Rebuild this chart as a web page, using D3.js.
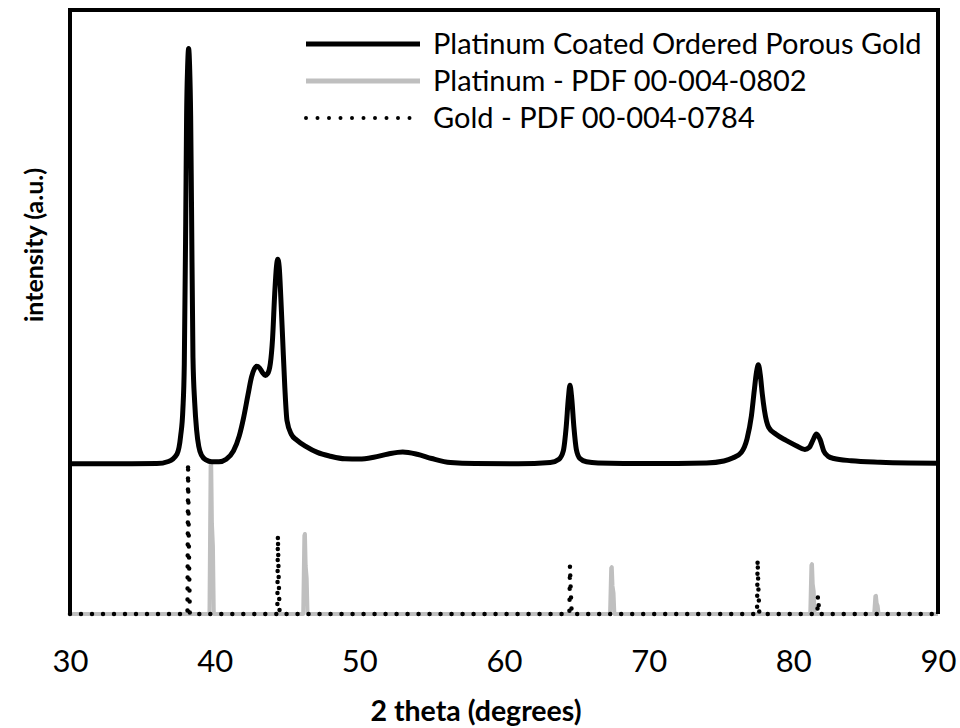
<!DOCTYPE html>
<html>
<head>
<meta charset="utf-8">
<script src="https://cdn.jsdelivr.net/npm/d3@7"></script>
<style>
  html, body { margin: 0; padding: 0; background: #fff; }
  svg { display: block; }
</style>
</head>
<body>
<svg id="chart" width="960" height="728"></svg>
<script>
// ---- data ----
// measured pattern of the sample (2 theta in degrees, intensity in a.u.)
const sampleTheta = [30, 33, 36, 36.8, 37.4, 37.65, 37.8, 37.9, 38.0, 38.06, 38.13, 38.2, 38.27, 38.34, 38.4, 38.5, 38.62, 38.75, 38.9, 39.1, 39.4, 39.8, 40.3, 40.8, 41.3, 41.7, 42.0, 42.3, 42.55, 42.75, 42.9, 43.1, 43.3, 43.5, 43.65, 43.85, 44.0, 44.15, 44.27, 44.36, 44.46, 44.58, 44.7, 44.85, 45.0, 45.3, 45.7, 46.3, 47.1, 48.0, 49.0, 50.0, 51.0, 52.0, 53.0, 54.0, 55.0, 56.3, 58.0, 61.0, 63.2, 63.8, 64.1, 64.3, 64.45, 64.56, 64.68, 64.83, 65.0, 65.25, 65.7, 66.5, 70.0, 74.0, 75.2, 75.8, 76.4, 76.8, 77.1, 77.3, 77.45, 77.58, 77.72, 77.85, 78.0, 78.15, 78.3, 78.8, 79.5, 80.2, 80.8, 81.1, 81.35, 81.6, 81.85, 82.1, 82.4, 82.8, 84.0, 86.0, 88.0, 90.0];
const sampleIntensity = [99.5, 99.5, 99.6, 101, 106, 118, 135, 165, 260, 330, 362, 374.5, 362, 330, 270, 170, 140, 122, 111, 105, 102, 100.8, 100.8, 102.5, 108, 118, 130, 145, 157, 162.5, 164, 163, 160, 158, 159, 166, 182, 212, 230, 235, 230, 208, 182, 150, 128, 119, 115, 111, 107, 104.5, 102.8, 102.6, 103.8, 106, 107.3, 105.8, 103, 100.3, 99.6, 99.5, 100.3, 102.5, 108, 124, 143, 151.5, 143, 124, 109, 103, 100.8, 100, 99.6, 100, 101.3, 103.3, 107, 116, 131, 148, 160, 165, 158, 146, 135, 127.5, 123.5, 119, 115, 111.5, 109, 110.3, 115, 119.2, 115.5, 108, 104.5, 103, 101.5, 100.5, 100, 99.8];

// Platinum - PDF 00-004-0802 (2 theta, relative intensity)
const ptTheta = [39.76, 46.24, 67.45, 81.29, 85.71];
const ptIntensity = [100, 53, 31, 33, 12];

// Gold - PDF 00-004-0784 (2 theta, relative intensity)
const auTheta = [38.18, 44.39, 64.58, 77.55, 81.72];
const auIntensity = [100, 52, 32, 36, 12];

const xTicks = [30, 40, 50, 60, 70, 80, 90];
const legendLabels = ["Platinum Coated Ordered Porous Gold", "Platinum - PDF 00-004-0802", "Gold - PDF 00-004-0784"];
const xTitle = "2 theta (degrees)";
const yTitle = "intensity (a.u.)";

// ---- layout ----
const svg = d3.select("#chart");
const margin = {left: 70, right: 22, top: 10, bottom: 114};
const W = 960, H = 728;
const x = d3.scaleLinear().domain([30, 90]).range([margin.left, W - margin.right]);
const y = d3.scaleLinear().domain([0, 400]).range([H - margin.bottom, margin.top]);
const FONT = "Lato, 'Open Sans', sans-serif";

// stick pattern -> narrow peak profile (Kα1 + small Kα2 shoulder)
function stickProfile(thetas, ints, lead) {
  const pts = [[30, 0]];
  thetas.forEach((t, i) => {
    const h = ints[i];
    pts.push([t - lead, 0], [t - 0.04, h * 0.98], [t, h], [t + 0.05, h * 0.6], [t + 0.12, h * 0.45], [t + 0.18, 0]);
  });
  pts.push([90, 0]);
  return pts;
}

const line = d3.line().x(d => x(d[0])).y(d => y(d[1]));

// Platinum reference (gray)
svg.append("path")
  .datum(stickProfile(ptTheta, ptIntensity, 0.12))
  .attr("fill", "none")
  .attr("stroke", "#bfbfbf")
  .attr("stroke-width", 4)
  .attr("stroke-linejoin", "round")
  .attr("d", line);

// Gold reference (dotted black): up and down strokes
function goldProfile(thetas, ints) {
  const pts = [[30, 0]];
  thetas.forEach((t, i) => {
    const h = ints[i];
    pts.push([t - 0.06, 0], [t - 0.02, h], [t + 0.03, h * 0.5], [t + 0.1, 0]);
  });
  pts.push([90, 0]);
  return pts;
}
svg.append("path")
  .datum(goldProfile(auTheta, auIntensity))
  .attr("fill", "none")
  .attr("stroke", "#000")
  .attr("stroke-width", 4.5)
  .attr("stroke-linecap", "round")
  .attr("stroke-dasharray", "0,11")
  .attr("d", line);

// Sample pattern
const sampleData = sampleTheta.map((t, i) => [t, sampleIntensity[i]]);
svg.append("path")
  .datum(sampleData)
  .attr("fill", "none")
  .attr("stroke", "#000")
  .attr("stroke-width", 5)
  .attr("stroke-linejoin", "round")
  .attr("d", d3.line().x(d => x(d[0])).y(d => y(d[1])).curve(d3.curveMonotoneX));

// frame: left, top, right
const x0 = x(30), x1 = x(90), yT = y(400), yB = y(0);
svg.append("path")
  .attr("d", `M${x0},${yB}V${yT}H${x1}V${yB}`)
  .attr("fill", "none")
  .attr("stroke", "#000")
  .attr("stroke-width", 4);

// x axis labels (no tick marks)
const xAxis = d3.axisBottom(x).tickValues(xTicks).tickSize(0).tickPadding(0).tickFormat(d3.format("d"));
const gx = svg.append("g").attr("transform", `translate(0,${yB})`).call(xAxis);
gx.select(".domain").remove();
gx.selectAll("text")
  .attr("dy", 0)
  .attr("y", 58)
  .attr("font-family", FONT)
  .attr("font-size", 31)
  .attr("fill", "#000");

// axis titles
svg.append("text")
  .attr("x", 476)
  .attr("y", 721)
  .attr("text-anchor", "middle")
  .attr("font-family", FONT)
  .attr("font-weight", "bold")
  .attr("font-size", 28.5)
  .text(xTitle);

svg.append("text")
  .attr("transform", "translate(43,245) rotate(-90)")
  .attr("text-anchor", "middle")
  .attr("font-family", FONT)
  .attr("font-weight", "bold")
  .attr("font-size", 25)
  .text(yTitle);

// legend
const legendStyles = [
  {stroke: "#000", width: 5, dash: null, cap: "butt"},
  {stroke: "#bfbfbf", width: 5, dash: null, cap: "butt"},
  {stroke: "#000", width: 4, dash: "0,11.5", cap: "round"}
];
const lg = svg.append("g");
legendLabels.forEach((lab, i) => {
  const ly = 44 + i * 37;
  const st = legendStyles[i];
  lg.append("line")
    .attr("x1", 306).attr("x2", 420).attr("y1", ly).attr("y2", ly)
    .attr("stroke", st.stroke).attr("stroke-width", st.width)
    .attr("stroke-linecap", st.cap)
    .attr("stroke-dasharray", st.dash);
  lg.append("text")
    .attr("x", 433).attr("y", ly + 10)
    .attr("font-family", FONT)
    .attr("font-size", 29)
    .attr("fill", "#000")
    .text(lab);
});
</script>
</body>
</html>
